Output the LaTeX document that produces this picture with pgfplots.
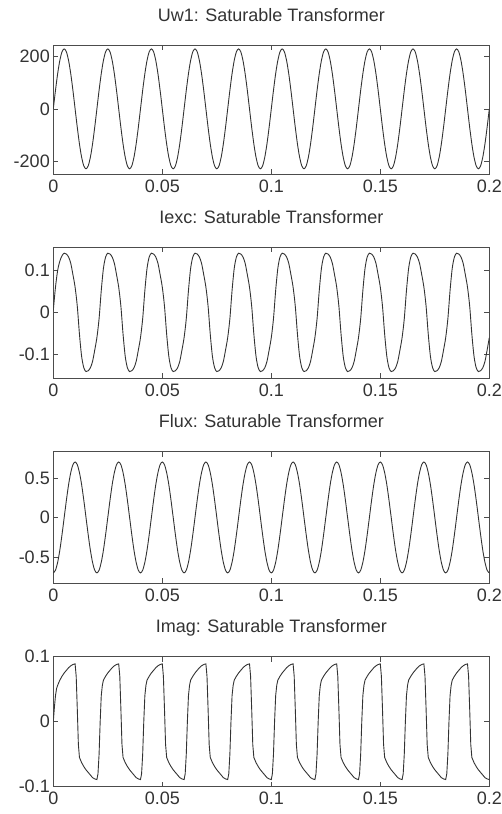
\documentclass[border=0pt]{standalone}
\usepackage{fontspec}
\setmainfont{Liberation Sans}
\usepackage{pgfplots}
\pgfplotsset{compat=1.18}
\usepackage{pgfplotstable}

% sampled every 1 ms: winding voltage, excitation current, flux
\pgfplotstableread{
t uw iexc flux
0.000 0 0.005 -0.700
0.001 71 0.060 -0.666
0.002 135 0.100 -0.566
0.003 186 0.122 -0.412
0.004 219 0.135 -0.216
0.005 230 0.141 0.000
0.006 219 0.139 0.216
0.007 186 0.132 0.412
0.008 135 0.117 0.566
0.009 71 0.090 0.666
0.010 0 0.060 0.700
0.011 -71 0.015 0.666
0.012 -135 -0.052 0.566
0.013 -186 -0.105 0.412
0.014 -219 -0.132 0.216
0.015 -230 -0.141 0.000
0.016 -219 -0.139 -0.216
0.017 -186 -0.132 -0.412
0.018 -135 -0.117 -0.566
0.019 -71 -0.090 -0.666
0.020 0 -0.060 -0.700
0.021 71 -0.015 -0.666
0.022 135 0.052 -0.566
0.023 186 0.105 -0.412
0.024 219 0.132 -0.216
0.025 230 0.141 0.000
0.026 219 0.139 0.216
0.027 186 0.132 0.412
0.028 135 0.117 0.566
0.029 71 0.090 0.666
0.030 0 0.060 0.700
0.031 -71 0.015 0.666
0.032 -135 -0.052 0.566
0.033 -186 -0.105 0.412
0.034 -219 -0.132 0.216
0.035 -230 -0.141 0.000
0.036 -219 -0.139 -0.216
0.037 -186 -0.132 -0.412
0.038 -135 -0.117 -0.566
0.039 -71 -0.090 -0.666
0.040 0 -0.060 -0.700
0.041 71 -0.015 -0.666
0.042 135 0.052 -0.566
0.043 186 0.105 -0.412
0.044 219 0.132 -0.216
0.045 230 0.141 0.000
0.046 219 0.139 0.216
0.047 186 0.132 0.412
0.048 135 0.117 0.566
0.049 71 0.090 0.666
0.050 0 0.060 0.700
0.051 -71 0.015 0.666
0.052 -135 -0.052 0.566
0.053 -186 -0.105 0.412
0.054 -219 -0.132 0.216
0.055 -230 -0.141 0.000
0.056 -219 -0.139 -0.216
0.057 -186 -0.132 -0.412
0.058 -135 -0.117 -0.566
0.059 -71 -0.090 -0.666
0.060 0 -0.060 -0.700
0.061 71 -0.015 -0.666
0.062 135 0.052 -0.566
0.063 186 0.105 -0.412
0.064 219 0.132 -0.216
0.065 230 0.141 0.000
0.066 219 0.139 0.216
0.067 186 0.132 0.412
0.068 135 0.117 0.566
0.069 71 0.090 0.666
0.070 0 0.060 0.700
0.071 -71 0.015 0.666
0.072 -135 -0.052 0.566
0.073 -186 -0.105 0.412
0.074 -219 -0.132 0.216
0.075 -230 -0.141 0.000
0.076 -219 -0.139 -0.216
0.077 -186 -0.132 -0.412
0.078 -135 -0.117 -0.566
0.079 -71 -0.090 -0.666
0.080 0 -0.060 -0.700
0.081 71 -0.015 -0.666
0.082 135 0.052 -0.566
0.083 186 0.105 -0.412
0.084 219 0.132 -0.216
0.085 230 0.141 0.000
0.086 219 0.139 0.216
0.087 186 0.132 0.412
0.088 135 0.117 0.566
0.089 71 0.090 0.666
0.090 0 0.060 0.700
0.091 -71 0.015 0.666
0.092 -135 -0.052 0.566
0.093 -186 -0.105 0.412
0.094 -219 -0.132 0.216
0.095 -230 -0.141 0.000
0.096 -219 -0.139 -0.216
0.097 -186 -0.132 -0.412
0.098 -135 -0.117 -0.566
0.099 -71 -0.090 -0.666
0.100 0 -0.060 -0.700
0.101 71 -0.015 -0.666
0.102 135 0.052 -0.566
0.103 186 0.105 -0.412
0.104 219 0.132 -0.216
0.105 230 0.141 0.000
0.106 219 0.139 0.216
0.107 186 0.132 0.412
0.108 135 0.117 0.566
0.109 71 0.090 0.666
0.110 0 0.060 0.700
0.111 -71 0.015 0.666
0.112 -135 -0.052 0.566
0.113 -186 -0.105 0.412
0.114 -219 -0.132 0.216
0.115 -230 -0.141 0.000
0.116 -219 -0.139 -0.216
0.117 -186 -0.132 -0.412
0.118 -135 -0.117 -0.566
0.119 -71 -0.090 -0.666
0.120 0 -0.060 -0.700
0.121 71 -0.015 -0.666
0.122 135 0.052 -0.566
0.123 186 0.105 -0.412
0.124 219 0.132 -0.216
0.125 230 0.141 0.000
0.126 219 0.139 0.216
0.127 186 0.132 0.412
0.128 135 0.117 0.566
0.129 71 0.090 0.666
0.130 0 0.060 0.700
0.131 -71 0.015 0.666
0.132 -135 -0.052 0.566
0.133 -186 -0.105 0.412
0.134 -219 -0.132 0.216
0.135 -230 -0.141 0.000
0.136 -219 -0.139 -0.216
0.137 -186 -0.132 -0.412
0.138 -135 -0.117 -0.566
0.139 -71 -0.090 -0.666
0.140 0 -0.060 -0.700
0.141 71 -0.015 -0.666
0.142 135 0.052 -0.566
0.143 186 0.105 -0.412
0.144 219 0.132 -0.216
0.145 230 0.141 0.000
0.146 219 0.139 0.216
0.147 186 0.132 0.412
0.148 135 0.117 0.566
0.149 71 0.090 0.666
0.150 0 0.060 0.700
0.151 -71 0.015 0.666
0.152 -135 -0.052 0.566
0.153 -186 -0.105 0.412
0.154 -219 -0.132 0.216
0.155 -230 -0.141 0.000
0.156 -219 -0.139 -0.216
0.157 -186 -0.132 -0.412
0.158 -135 -0.117 -0.566
0.159 -71 -0.090 -0.666
0.160 0 -0.060 -0.700
0.161 71 -0.015 -0.666
0.162 135 0.052 -0.566
0.163 186 0.105 -0.412
0.164 219 0.132 -0.216
0.165 230 0.141 0.000
0.166 219 0.139 0.216
0.167 186 0.132 0.412
0.168 135 0.117 0.566
0.169 71 0.090 0.666
0.170 0 0.060 0.700
0.171 -71 0.015 0.666
0.172 -135 -0.052 0.566
0.173 -186 -0.105 0.412
0.174 -219 -0.132 0.216
0.175 -230 -0.141 0.000
0.176 -219 -0.139 -0.216
0.177 -186 -0.132 -0.412
0.178 -135 -0.117 -0.566
0.179 -71 -0.090 -0.666
0.180 0 -0.060 -0.700
0.181 71 -0.015 -0.666
0.182 135 0.052 -0.566
0.183 186 0.105 -0.412
0.184 219 0.132 -0.216
0.185 230 0.141 0.000
0.186 219 0.139 0.216
0.187 186 0.132 0.412
0.188 135 0.117 0.566
0.189 71 0.090 0.666
0.190 0 0.060 0.700
0.191 -71 0.015 0.666
0.192 -135 -0.052 0.566
0.193 -186 -0.105 0.412
0.194 -219 -0.132 0.216
0.195 -230 -0.141 0.000
0.196 -219 -0.139 -0.216
0.197 -186 -0.132 -0.412
0.198 -135 -0.117 -0.566
0.199 -71 -0.090 -0.666
0.200 0 -0.060 -0.700
}\sinedata

% magnetising current, finer steps round the steep edges
\pgfplotstableread{
t imag
0.0000 0.000
0.0005 0.022
0.0010 0.040
0.0015 0.051
0.0020 0.056
0.0025 0.060
0.0030 0.064
0.0040 0.070
0.0050 0.075
0.0060 0.079
0.0070 0.083
0.0080 0.086
0.0090 0.088
0.0100 0.089
0.0105 0.070
0.0110 0.020
0.0115 -0.035
0.0120 -0.055
0.0130 -0.063
0.0140 -0.069
0.0150 -0.074
0.0160 -0.078
0.0170 -0.082
0.0180 -0.086
0.0190 -0.088
0.0200 -0.089
0.0205 -0.080
0.0210 -0.050
0.0215 0.000
0.0220 0.040
0.0225 0.056
0.0230 0.064
0.0240 0.070
0.0250 0.075
0.0260 0.079
0.0270 0.083
0.0280 0.086
0.0290 0.088
0.0300 0.089
0.0305 0.070
0.0310 0.020
0.0315 -0.035
0.0320 -0.055
0.0330 -0.063
0.0340 -0.069
0.0350 -0.074
0.0360 -0.078
0.0370 -0.082
0.0380 -0.086
0.0390 -0.088
0.0400 -0.089
0.0405 -0.080
0.0410 -0.050
0.0415 0.000
0.0420 0.040
0.0425 0.056
0.0430 0.064
0.0440 0.070
0.0450 0.075
0.0460 0.079
0.0470 0.083
0.0480 0.086
0.0490 0.088
0.0500 0.089
0.0505 0.070
0.0510 0.020
0.0515 -0.035
0.0520 -0.055
0.0530 -0.063
0.0540 -0.069
0.0550 -0.074
0.0560 -0.078
0.0570 -0.082
0.0580 -0.086
0.0590 -0.088
0.0600 -0.089
0.0605 -0.080
0.0610 -0.050
0.0615 0.000
0.0620 0.040
0.0625 0.056
0.0630 0.064
0.0640 0.070
0.0650 0.075
0.0660 0.079
0.0670 0.083
0.0680 0.086
0.0690 0.088
0.0700 0.089
0.0705 0.070
0.0710 0.020
0.0715 -0.035
0.0720 -0.055
0.0730 -0.063
0.0740 -0.069
0.0750 -0.074
0.0760 -0.078
0.0770 -0.082
0.0780 -0.086
0.0790 -0.088
0.0800 -0.089
0.0805 -0.080
0.0810 -0.050
0.0815 0.000
0.0820 0.040
0.0825 0.056
0.0830 0.064
0.0840 0.070
0.0850 0.075
0.0860 0.079
0.0870 0.083
0.0880 0.086
0.0890 0.088
0.0900 0.089
0.0905 0.070
0.0910 0.020
0.0915 -0.035
0.0920 -0.055
0.0930 -0.063
0.0940 -0.069
0.0950 -0.074
0.0960 -0.078
0.0970 -0.082
0.0980 -0.086
0.0990 -0.088
0.1000 -0.089
0.1005 -0.080
0.1010 -0.050
0.1015 0.000
0.1020 0.040
0.1025 0.056
0.1030 0.064
0.1040 0.070
0.1050 0.075
0.1060 0.079
0.1070 0.083
0.1080 0.086
0.1090 0.088
0.1100 0.089
0.1105 0.070
0.1110 0.020
0.1115 -0.035
0.1120 -0.055
0.1130 -0.063
0.1140 -0.069
0.1150 -0.074
0.1160 -0.078
0.1170 -0.082
0.1180 -0.086
0.1190 -0.088
0.1200 -0.089
0.1205 -0.080
0.1210 -0.050
0.1215 0.000
0.1220 0.040
0.1225 0.056
0.1230 0.064
0.1240 0.070
0.1250 0.075
0.1260 0.079
0.1270 0.083
0.1280 0.086
0.1290 0.088
0.1300 0.089
0.1305 0.070
0.1310 0.020
0.1315 -0.035
0.1320 -0.055
0.1330 -0.063
0.1340 -0.069
0.1350 -0.074
0.1360 -0.078
0.1370 -0.082
0.1380 -0.086
0.1390 -0.088
0.1400 -0.089
0.1405 -0.080
0.1410 -0.050
0.1415 0.000
0.1420 0.040
0.1425 0.056
0.1430 0.064
0.1440 0.070
0.1450 0.075
0.1460 0.079
0.1470 0.083
0.1480 0.086
0.1490 0.088
0.1500 0.089
0.1505 0.070
0.1510 0.020
0.1515 -0.035
0.1520 -0.055
0.1530 -0.063
0.1540 -0.069
0.1550 -0.074
0.1560 -0.078
0.1570 -0.082
0.1580 -0.086
0.1590 -0.088
0.1600 -0.089
0.1605 -0.080
0.1610 -0.050
0.1615 0.000
0.1620 0.040
0.1625 0.056
0.1630 0.064
0.1640 0.070
0.1650 0.075
0.1660 0.079
0.1670 0.083
0.1680 0.086
0.1690 0.088
0.1700 0.089
0.1705 0.070
0.1710 0.020
0.1715 -0.035
0.1720 -0.055
0.1730 -0.063
0.1740 -0.069
0.1750 -0.074
0.1760 -0.078
0.1770 -0.082
0.1780 -0.086
0.1790 -0.088
0.1800 -0.089
0.1805 -0.080
0.1810 -0.050
0.1815 0.000
0.1820 0.040
0.1825 0.056
0.1830 0.064
0.1840 0.070
0.1850 0.075
0.1860 0.079
0.1870 0.083
0.1880 0.086
0.1890 0.088
0.1900 0.089
0.1905 0.070
0.1910 0.020
0.1915 -0.035
0.1920 -0.055
0.1930 -0.063
0.1940 -0.069
0.1950 -0.074
0.1960 -0.078
0.1970 -0.082
0.1980 -0.086
0.1990 -0.088
0.2000 -0.089
}\imagdata

\pgfplotsset{
  scope/.style={
    scale only axis,
    width=436pt,
    xmin=0, xmax=0.2,
    xtick={0,0.05,0.1,0.15,0.2},
    xticklabels={0,0.05,0.1,0.15,0.2},
    tick align=inside,
    major tick length=5pt,
    axis line style={black!70, line width=0.8pt},
    tick style={black!70, line width=0.6pt},
    tick label style={font=\fontsize{18}{20}\selectfont, text=black!80},
    xticklabel style={yshift=-2pt},
    yticklabel style={xshift=0pt},
    title style={font=\fontsize{18}{20}\selectfont, text=black!80,
      at={(0.5,1)}, anchor=base, yshift=18pt},
  },
  trace/.style={black!80, line width=0.9pt},
}

\begin{document}
\begin{tikzpicture}
\useasboundingbox (0pt,0pt) rectangle (502pt,-814pt);

\begin{axis}[scope, at={(53.3pt,-45pt)}, anchor=north west, height=129pt,
    ymin=-250, ymax=245, ytick={-200,0,200}, yticklabels={-200,0,200},
    title={Uw1: Saturable Transformer}]
\addplot[trace, smooth] table[x=t, y=uw] {\sinedata};
\end{axis}

\begin{axis}[scope, at={(53.3pt,-247.3pt)}, anchor=north west, height=131pt,
    ymin=-0.157, ymax=0.155, ytick={-0.1,0,0.1}, yticklabels={-0.1,0,0.1},
    title={Iexc: Saturable Transformer}]
\addplot[trace, smooth] table[x=t, y=iexc] {\sinedata};
\end{axis}

\begin{axis}[scope, at={(53.3pt,-451.7pt)}, anchor=north west, height=131.5pt,
    ymin=-0.83, ymax=0.83, ytick={-0.5,0,0.5}, yticklabels={-0.5,0,0.5},
    title={Flux: Saturable Transformer}]
\addplot[trace, smooth] table[x=t, y=flux] {\sinedata};
\end{axis}

\begin{axis}[scope, at={(53.3pt,-656.7pt)}, anchor=north west, height=130pt,
    ymin=-0.1, ymax=0.1, ytick={-0.1,0,0.1}, yticklabels={-0.1,0,0.1},
    title={Imag: Saturable Transformer}]
\addplot[trace] table[x=t, y=imag] {\imagdata};
\end{axis}
\end{tikzpicture}
\end{document}
